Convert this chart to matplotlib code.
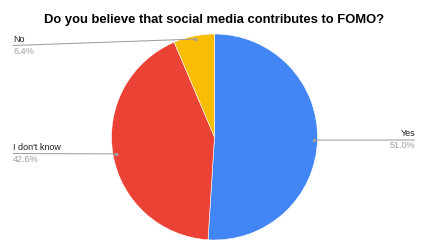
import matplotlib
matplotlib.use("Agg")
import matplotlib.pyplot as plt
import numpy as np

plt.rcParams['font.family'] = ['Liberation Sans', 'DejaVu Sans']

titulo = "Do you believe that social media contributes to FOMO?"
respuestas = ["Yes", "I don't know", "No"]
porcentajes = [51.0, 42.6, 6.4]
colores = ["#4285F4", "#EA4335", "#FBBC04"]

W, H = 429, 252
fig = plt.figure(figsize=(W / 100, H / 100), dpi=100)
ax = fig.add_axes([0, 0, 1, 1])
ax.set_xlim(0, W)
ax.set_ylim(0, H)
ax.set_aspect('equal')
ax.axis('off')

cx, cy, R = 214.5, H - 137, 103
wedges, _ = ax.pie(porcentajes, colors=colores, startangle=90, counterclock=False,
                   center=(cx, cy), radius=R, frame=True,
                   wedgeprops=dict(linewidth=0.4, edgecolor='white'))
ax.set_xlim(0, W)
ax.set_ylim(0, H)
ax.axis('off')

# donde va cada etiqueta: (x del texto, y de la linea en el borde, alineacion)
posiciones = [(415, H - 140, 'right'), (13, H - 153.5, 'left'), (13, H - 45.5, 'left')]

gris = "#9e9e9e"
for w, txt, pct, (tx, ly, ha) in zip(wedges, respuestas, porcentajes, posiciones):
    ang = np.radians((w.theta1 + w.theta2) / 2)
    dx = cx + 0.97 * R * np.cos(ang)
    dy = cy + 0.97 * R * np.sin(ang)
    ax.plot([dx, tx], [dy, ly], color=gris, linewidth=0.75, solid_capstyle='butt')
    ax.plot(dx, dy, 'o', color=gris, markersize=2.5, markeredgewidth=0)
    ax.text(tx, ly + 1.5, txt, ha=ha, va='bottom', fontsize=6.5, color="#222222")
    ax.text(tx, ly - 1.5, f"{pct:.1f}%", ha=ha, va='top', fontsize=6.5, color="#9e9e9e")

ax.text(W / 2, H - 20, titulo, ha='center', va='center', fontsize=9.4,
        fontweight='bold', color='black')

fig.savefig("out.png", dpi=100)
